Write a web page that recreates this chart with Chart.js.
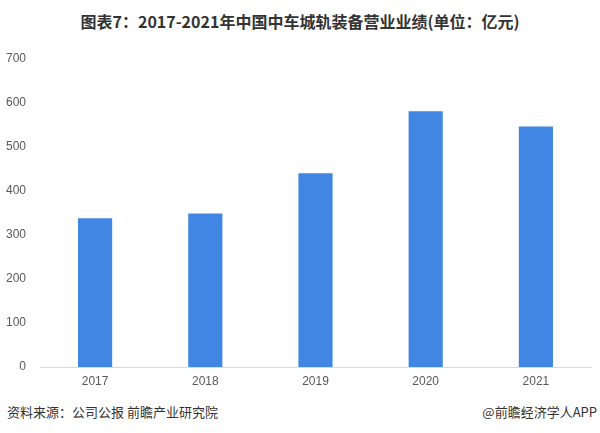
<!DOCTYPE html>
<html>
<head>
<meta charset="utf-8">
<script src="https://cdn.jsdelivr.net/npm/chart.js@4/dist/chart.umd.min.js"></script>
<style>
  html, body { margin: 0; padding: 0; background: #fff; }
  body { width: 600px; height: 433px; position: relative; overflow: hidden; font-family: "Noto Sans CJK SC", "Noto Sans", sans-serif; }
  #title { position: absolute; left: 0; top: 10px; width: 600px; text-align: center; font-size: 16px; font-weight: bold; color: #333; line-height: 22px; }
  #box { position: absolute; left: 0; top: 37px; width: 600px; height: 358px; }
  .foot { position: absolute; top: 402px; font-size: 13px; color: #333; line-height: 20px; }
  #src { left: 7px; }
  #app { right: 3px; }
</style>
</head>
<body>
<div id="title">图表7：2017-2021年中国中车城轨装备营业业绩(单位：亿元)</div>
<div id="box"><canvas id="ctx_revenue"></canvas></div>
<div class="foot" id="src">资料来源：公司公报 前瞻产业研究院</div>
<div class="foot" id="app">@前瞻经济学人APP</div>
<script>
var years = ['2017', '2018', '2019', '2020', '2021'];
var revenue = [337, 348, 439, 580, 545];
var y_ticks = [0, 100, 200, 300, 400, 500, 600, 700];

var ctx_revenue = document.getElementById('ctx_revenue').getContext('2d');
var chart_revenue = new Chart(ctx_revenue, {
    type: 'bar',
    data: {
        labels: years,
        datasets: [{
            data: revenue,
            backgroundColor: '#4186e2',
            barPercentage: 0.31,
            categoryPercentage: 1
        }]
    },
    options: {
        responsive: true,
        maintainAspectRatio: false,
        animation: false,
        layout: { padding: { top: 7, right: 9, left: 0, bottom: 0 } },
        plugins: {
            legend: { display: false },
            tooltip: { enabled: false }
        },
        scales: {
            x: {
                grid: { display: false, drawTicks: false },
                border: { display: true, color: '#d9d9d9', width: 1 },
                ticks: { color: '#595959', padding: 7, font: { size: 12, family: 'Liberation Sans' } },
                afterFit: function (scale) { scale.height = 28; }
            },
            y: {
                min: 0,
                max: 700,
                afterBuildTicks: function (scale) {
                    scale.ticks = y_ticks.map(function (v) { return { value: v }; });
                },
                grid: { display: false, drawTicks: false },
                border: { display: false },
                ticks: { color: '#595959', padding: 14, font: { size: 12, family: 'Liberation Sans' } },
                afterFit: function (scale) { scale.width = 40; }
            }
        }
    }
});
</script>
</body>
</html>
